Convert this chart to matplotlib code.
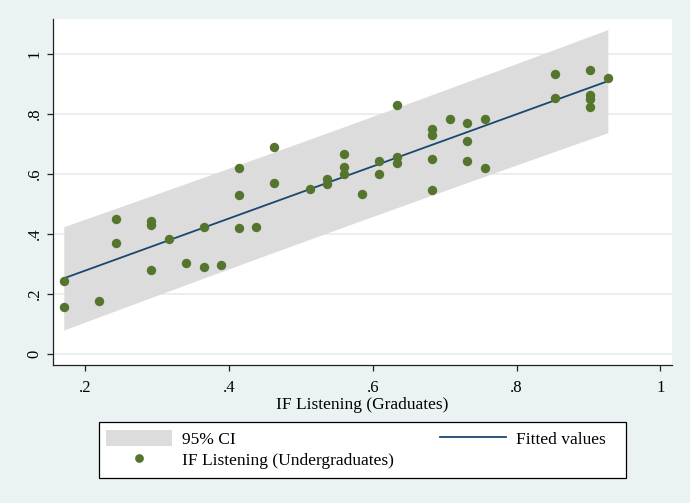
import numpy as np
import matplotlib
matplotlib.use("Agg")
import matplotlib.pyplot as plt
from matplotlib.patches import Patch, Rectangle
from matplotlib.lines import Line2D

plt.rcParams['font.family'] = ['Liberation Serif', 'DejaVu Serif']

# IF listening scores: graduates (x) vs undergraduates (y)
graduates = [0.170, 0.170, 0.219, 0.243, 0.243, 0.292, 0.292, 0.292, 0.316, 0.340,
             0.365, 0.365, 0.389, 0.414, 0.414, 0.414, 0.438, 0.4625, 0.4625, 0.512,
             0.536, 0.536, 0.560, 0.560, 0.560, 0.585, 0.608, 0.608, 0.634, 0.634,
             0.634, 0.682, 0.682, 0.682, 0.682, 0.707, 0.7315, 0.7315, 0.7315, 0.756,
             0.756, 0.854, 0.854, 0.902, 0.902, 0.902, 0.902, 0.927]
undergraduates = [0.241, 0.157, 0.176, 0.448, 0.369, 0.441, 0.430, 0.279, 0.381, 0.302,
                  0.423, 0.289, 0.297, 0.618, 0.528, 0.418, 0.423, 0.690, 0.569, 0.550,
                  0.582, 0.565, 0.667, 0.623, 0.599, 0.533, 0.642, 0.599, 0.830, 0.655,
                  0.637, 0.748, 0.729, 0.648, 0.546, 0.781, 0.769, 0.709, 0.642, 0.781,
                  0.618, 0.933, 0.852, 0.945, 0.862, 0.848, 0.822, 0.920]

x_ticks = [0.2, 0.4, 0.6, 0.8, 1.0]
x_tick_labels = ['.2', '.4', '.6', '.8', '1']
y_ticks = [0.0, 0.2, 0.4, 0.6, 0.8, 1.0]
y_tick_labels = ['0', '.2', '.4', '.6', '.8', '1']

BG = '#EAF2F3'
CI_COLOR = '#DCDCDC'
LINE_COLOR = '#1A476F'
DOT_COLOR = '#55752F'
GRID_COLOR = '#E4ECEE'

# Linear fit with 95% prediction band
x = np.array(graduates)
y = np.array(undergraduates)
n = len(x)
slope, intercept = np.polyfit(x, y, 1)
resid = y - (intercept + slope * x)
s = np.sqrt(np.sum(resid ** 2) / (n - 2))
xbar = x.mean()
sxx = np.sum((x - xbar) ** 2)
T_CRIT = 2.0129  # t(0.975, n-2)
xs = np.linspace(x.min(), x.max(), 200)
fit = intercept + slope * xs
half = T_CRIT * s * np.sqrt(1 + 1 / n + (xs - xbar) ** 2 / sxx)

W, H = 690, 503
fig = plt.figure(figsize=(W / 100, H / 100), dpi=100, facecolor=BG)
ax = fig.add_axes([53 / W, (H - 365) / H, 619 / W, 346 / H])
ax.set_facecolor('white')

ax.fill_between(xs, fit - half, fit + half, color=CI_COLOR, lw=0, zorder=2)
ax.plot(xs, fit, color=LINE_COLOR, lw=1.3, zorder=3)
ax.scatter(x, y, s=46, color=DOT_COLOR, lw=0, zorder=4)

for yt in y_ticks:
    ax.axhline(yt, color=GRID_COLOR, lw=1.2, zorder=1)

ax.set_xlim(0.155, 1.0163)
ax.set_ylim(-0.0377, 1.1157)
ax.set_xticks(x_ticks)
ax.set_xticklabels(x_tick_labels)
ax.set_yticks(y_ticks)
ax.set_yticklabels(y_tick_labels, rotation=90, va='center')

for side in ('top', 'right'):
    ax.spines[side].set_visible(False)
for side in ('left', 'bottom'):
    ax.spines[side].set_color('#222222')
    ax.spines[side].set_linewidth(0.9)

ax.tick_params(direction='out', length=4.5, width=0.9, color='#222222',
               labelsize=12)
ax.tick_params(axis='x', pad=6)
ax.tick_params(axis='y', pad=3)
ax.set_xlabel('IF Listening (Graduates)', fontsize=12.5, labelpad=1)

# Legend frame and entries
fig.patches.append(Rectangle((99 / W, (H - 477.7) / H), 526.5 / W, 56 / H,
                             transform=fig.transFigure, facecolor='white',
                             edgecolor='black', lw=0.9, zorder=1))
handles = [Patch(facecolor=CI_COLOR, edgecolor='none'),
           Line2D([], [], ls='none', marker='o', markersize=6.3,
                  markerfacecolor=DOT_COLOR, markeredgewidth=0),
           Line2D([], [], color=LINE_COLOR, lw=1.3)]
labels = ['95% CI', 'IF Listening (Undergraduates)', 'Fitted values']
leg = fig.legend(handles, labels, ncol=2, mode='expand', frameon=False,
                 loc='center', fontsize=12.5,
                 bbox_to_anchor=(105.7 / W, (H - 477.7) / H, 500 / W, 56 / H),
                 bbox_transform=fig.transFigure, borderpad=0, borderaxespad=0,
                 handlelength=3.8, handleheight=1.05, handletextpad=0.6,
                 labelspacing=0.2)
leg.set_zorder(5)

fig.savefig('out.png', dpi=100, facecolor=BG)
